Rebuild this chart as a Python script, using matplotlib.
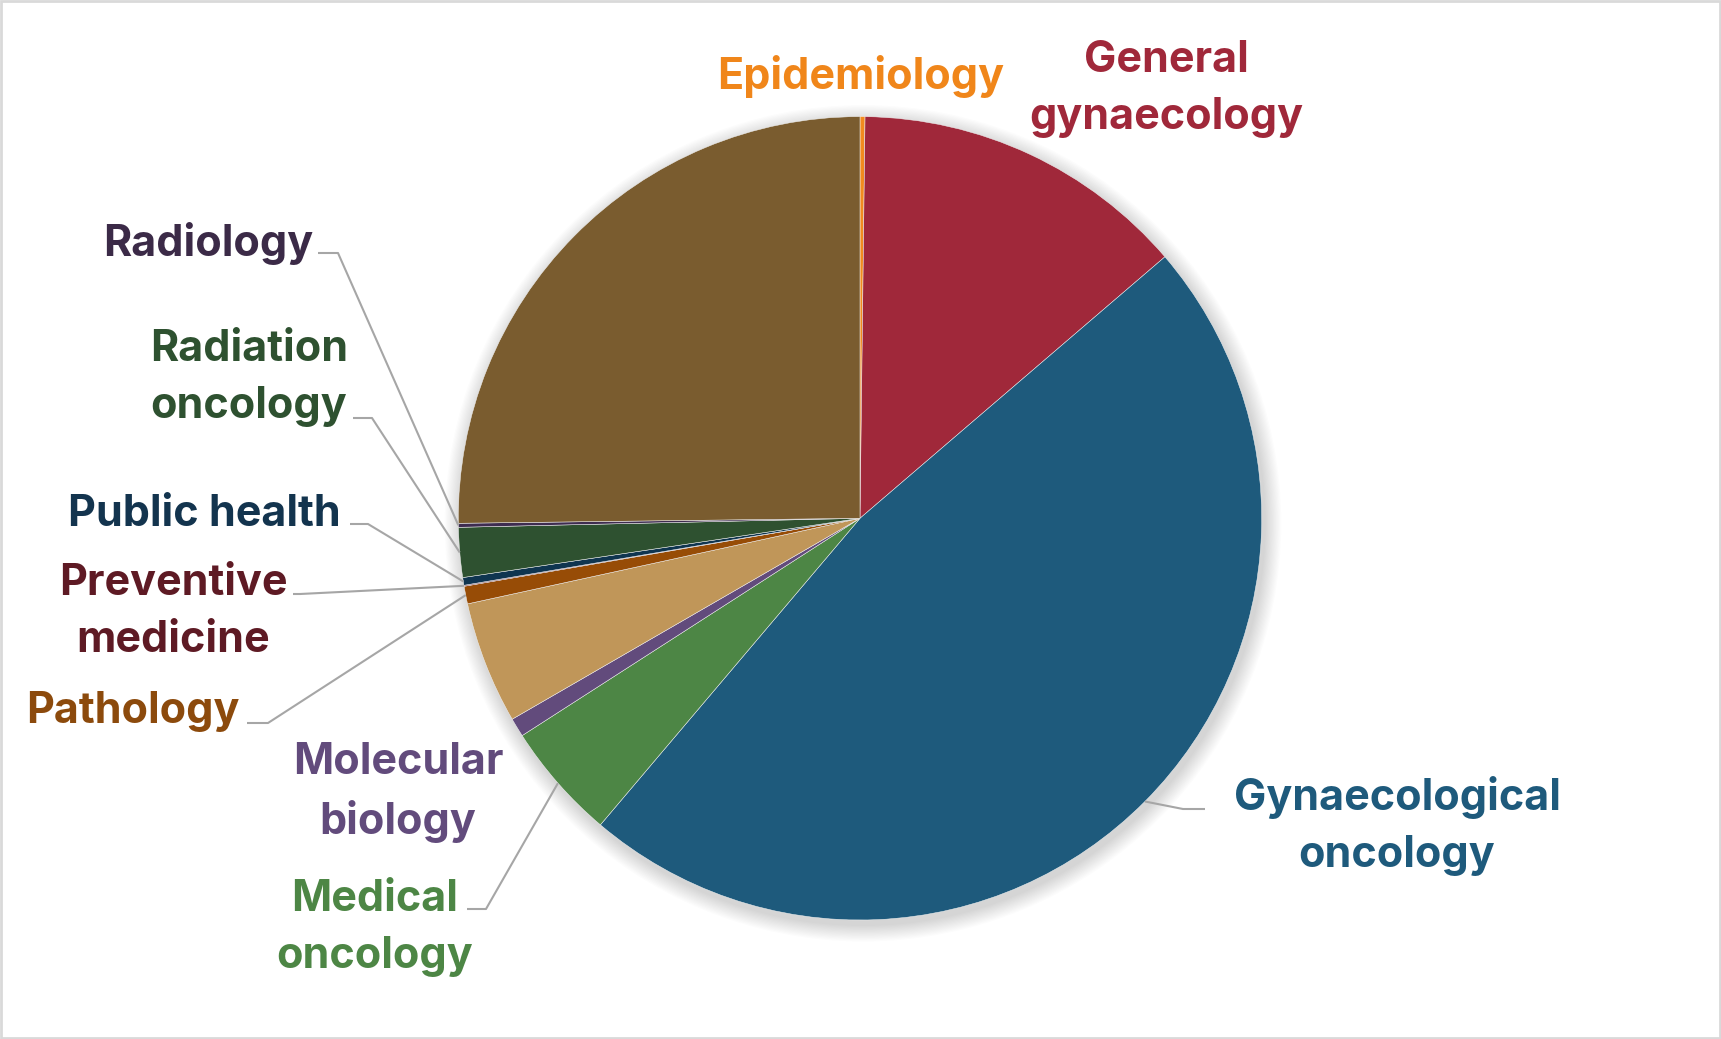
import matplotlib
matplotlib.use("Agg")
import matplotlib.pyplot as plt
from matplotlib.patches import Circle, Rectangle
import numpy as np

# ---- data (clockwise from 12 o'clock) ----
categories = ["Epidemiology", "General\ngynaecology", "Gynaecological\noncology",
              "Medical\noncology", "Molecular\nbiology", "", "Pathology",
              "Preventive\nmedicine", "Public health", "Radiation\noncology",
              "Radiology", ""]
values = [0.20, 13.52, 47.47, 4.72, 0.76, 4.92, 0.71, 0.04, 0.31, 2.00, 0.16, 25.20]

slice_colors = ["#F28A1E", "#A0283A", "#1E5A7C", "#4D8645", "#624B7C", "#C09659",
                "#974C06", "#6A1A28", "#0F3550", "#2E5130", "#3E2C50", "#7A5C2F"]
label_colors = ["#F0861A", "#A0283A", "#1E5A7C", "#4D8645", "#624B7C", "#C09659",
                "#8C4A0C", "#5E1A24", "#13344E", "#2E5130", "#3B2A47", "#7A5C2F"]

# ---- layout (pixel coords, y measured from top) ----
W, H = 1721, 1039
CX, CY, R = 860.0, 518.3, 401.7
# label: (center x, last-line baseline y)
label_pos = [(861, 89), (1166, 129), (1397, 867), (375, 968), (398, 834), None,
             (133, 723), (173, 652), (204, 526), (249, 418), (208, 256), None]
# leader line elbow points (start, elbow) or None
leaders = [None, None, [(1205, 809), (1183, 809)], [(467, 909), (486, 909)], None, None,
           [(247, 723), (268, 723)], [(293, 594), (300, 594)], [(350, 524), (368, 524)],
           [(353, 418), (372, 418)], [(318, 253), (338, 253)], None]

def Y(y):
    return H - y

fig = plt.figure(figsize=(W / 100, H / 100), dpi=100)
fig.patch.set_facecolor("white")
ax = fig.add_axes([0, 0, 1, 1])

# soft shadow
for k in range(14):
    ax.add_patch(Circle((CX + 3, Y(CY) - 5), R + 1 + k * 1.2, facecolor="black",
                        edgecolor="none", alpha=0.012, zorder=0))

wedges, _ = ax.pie(values, colors=slice_colors, startangle=90, counterclock=False,
                   center=(CX, Y(CY)), radius=R,
                   wedgeprops=dict(edgecolor="#F2F2F2", linewidth=0.35))
for w in wedges:
    w.set_zorder(2)

ax.set_xlim(0, W)
ax.set_ylim(0, H)
ax.set_aspect("equal")
ax.axis("off")

font = ["Inter", "DejaVu Sans"]
for i, lab in enumerate(categories):
    if not lab or label_pos[i] is None:
        continue
    x, yb = label_pos[i]
    ax.text(x, Y(yb), lab, ha="center", va="baseline", multialignment="center",
            color=label_colors[i], fontsize=31, fontweight="bold", family=font,
            linespacing=1.5, zorder=5)
    if leaders[i] is not None:
        w = wedges[i]
        th = np.deg2rad((w.theta1 + w.theta2) / 2)
        ex, ey = CX + R * np.cos(th), Y(CY) + R * np.sin(th)
        (x0, y0), (x1, y1) = leaders[i]
        ax.plot([x0, x1, ex], [Y(y0), Y(y1), ey], color="#A6A6A6", lw=1.5,
                solid_capstyle="butt", zorder=4)

fig.patches.append(Rectangle((0.0006, 0.001), 0.9988, 0.998, transform=fig.transFigure,
                             fill=False, edgecolor="#D9D9D9", linewidth=2))

fig.savefig("out.png", dpi=100, facecolor="white")
